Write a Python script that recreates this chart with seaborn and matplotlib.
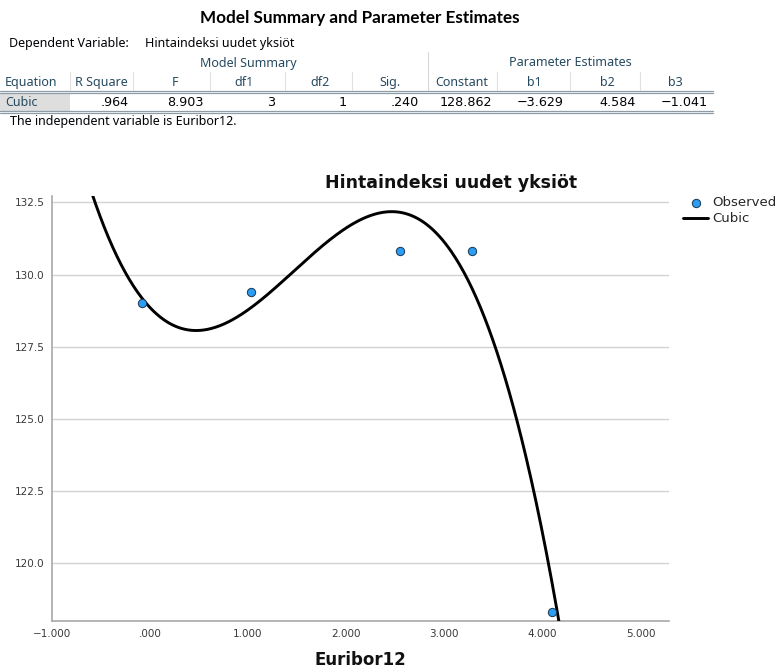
import numpy as np
import pandas as pd
import matplotlib
matplotlib.use("Agg")
import matplotlib.pyplot as plt
from matplotlib.lines import Line2D
from matplotlib.patches import Rectangle
import seaborn as sns

# ---------------- data ----------------
euribor12 = [-0.08, 1.03, 2.55, 3.28, 4.10]
hintaindeksi = [129.0, 129.4, 130.8, 130.8, 118.3]
cubic_coefs = [128.862, -3.629, 4.584, -1.041]  # constant, b1, b2, b3

x_ticks = [-1, 0, 1, 2, 3, 4, 5]
x_tick_labels = ["\u22121.000", ".000", "1.000", "2.000", "3.000", "4.000", "5.000"]
y_ticks = [120.0, 122.5, 125.0, 127.5, 130.0, 132.5]
y_tick_labels = ["120.0", "122.5", "125.0", "127.5", "130.0", "132.5"]

table_title = "Model Summary and Parameter Estimates"
dependent_label = "Dependent Variable:"
dependent_name = "Hintaindeksi uudet yksiöt"
group_headers = ["Model Summary", "Parameter Estimates"]
col_headers = ["Equation", "R Square", "F", "df1", "df2", "Sig.",
               "Constant", "b1", "b2", "b3"]
row_values = ["Cubic", ".964", "8.903", "3", "1", ".240",
              "128.862", "\u22123.629", "4.584", "\u22121.041"]
footer_text = "The independent variable is Euribor12."
chart_title = "Hintaindeksi uudet yksiöt"
x_label = "Euribor12"

# ---------------- style ----------------
sns.set_theme(style="white")
plt.rcParams["font.family"] = ["DejaVu Sans"]
TXT = ["Noto Sans", "DejaVu Sans"]
NUM = ["DejaVu Sans"]

W, H = 775, 672
fig = plt.figure(figsize=(W / 100, H / 100), dpi=100)


def fx(x):
    return x / W


def fy(y):
    return 1 - y / H


hdr_col = "#264A60"
val_col = "#010205"

# ---------------- table ----------------
fig.text(fx(360), fy(18), table_title, ha="center", va="center",
         fontsize=12.3, fontweight="bold", family=["Lato", "DejaVu Sans"], color="#000000")
fig.text(fx(9), fy(44), dependent_label, ha="left", va="center",
         fontsize=9, family=TXT, color=val_col)
fig.text(fx(145), fy(44), dependent_name, ha="left", va="center",
         fontsize=9, family=TXT, color=val_col)

fig.text(fx(248), fy(63), group_headers[0], ha="center", va="center",
         fontsize=9, family=TXT, color=hdr_col)
fig.text(fx(570), fy(63), group_headers[1], ha="center", va="center",
         fontsize=9, family=TXT, color=hdr_col)

hdr_x = [5, 101, 175, 244, 320, 390, 462, 534, 607, 675]
for i, (h, x) in enumerate(zip(col_headers, hdr_x)):
    fig.text(fx(x), fy(82.5), h, ha="left" if i == 0 else "center", va="center",
             fontsize=9, family=TXT, color=hdr_col)

# grey label cell
fig.add_artist(Rectangle((fx(0), fy(111)), fx(70), (111 - 93.5) / H,
                         transform=fig.transFigure, facecolor="#DEDEDE",
                         edgecolor="none", zorder=0))
val_right = [None, 129, 204, 275, 347, 419, 492, 564, 636, 708]
for i, (v, x) in enumerate(zip(row_values, val_right)):
    if i == 0:
        fig.text(fx(5), fy(102.5), v, ha="left", va="center",
                 fontsize=9, family=TXT, color=hdr_col)
    else:
        fig.text(fx(x), fy(102.5), v, ha="right", va="center",
                 fontsize=9.2, family=NUM, color=val_col)

fig.text(fx(10), fy(121.5), footer_text, ha="left", va="center",
         fontsize=9, family=TXT, color=val_col)


def hline(y, x0, x1, color, lw):
    fig.add_artist(Line2D([fx(x0), fx(x1)], [fy(y), fy(y)],
                          transform=fig.transFigure, color=color, lw=lw))


def vline(x, y0, y1, color, lw):
    fig.add_artist(Line2D([fx(x), fx(x)], [fy(y0), fy(y1)],
                          transform=fig.transFigure, color=color, lw=lw))


for y in (90.5, 92.5):
    hline(y, 0, 713, "#8D9CA6", 0.9)
for y in (111, 113):
    hline(y, 0, 713, "#8D9CA6", 0.9)
vline(428, 52, 90, "#D8D8D8", 0.8)
for x in (70, 133, 210, 285, 352, 497, 570, 640):
    vline(x, 72, 90, "#E0E0E0", 0.8)

# ---------------- chart ----------------
left, right, bottom, top = 51.7, 669, 621, 196
ax = fig.add_axes([fx(left), fy(bottom), (right - left) / W, (bottom - top) / H])

xlim = (-1.0, 5.29)
ylim = (118.0, 132.72)

curve_x = np.linspace(xlim[0], xlim[1], 600)
curve_y = (cubic_coefs[0] + cubic_coefs[1] * curve_x
           + cubic_coefs[2] * curve_x ** 2 + cubic_coefs[3] * curve_x ** 3)
obs = pd.DataFrame({"Euribor12": euribor12, "Hintaindeksi": hintaindeksi})
fit = pd.DataFrame({"Euribor12": curve_x, "Hintaindeksi": curve_y})

for yt in y_ticks:
    ax.axhline(yt, color="#D2D2D2", lw=1.0, zorder=0)

sns.lineplot(data=fit, x="Euribor12", y="Hintaindeksi", ax=ax, color="black",
             lw=2.1, label="Cubic", zorder=3, sort=False)
sns.scatterplot(data=obs, x="Euribor12", y="Hintaindeksi", ax=ax, s=36,
                color="#2A9DF4", edgecolor="#1B3550", linewidth=0.7,
                label="Observed", zorder=4)

ax.set_xlim(*xlim)
ax.set_ylim(*ylim)
ax.set_xticks(x_ticks, x_tick_labels)
ax.set_yticks(y_ticks, y_tick_labels)
ax.tick_params(axis="both", length=0, labelsize=7.5, labelcolor="#3A3A3A")
ax.tick_params(axis="y", pad=5)
ax.tick_params(axis="x", pad=6)
ax.grid(False)
for s in ("top", "right"):
    ax.spines[s].set_visible(False)
for s in ("left", "bottom"):
    ax.spines[s].set_color("#A8A8A8")
    ax.spines[s].set_linewidth(1.2)

ax.set_ylabel("")
ax.set_xlabel(x_label, fontsize=12, fontweight="bold", color="#111111")
ax.xaxis.set_label_coords(0.5, -(660 - bottom) / (bottom - top))
ax.xaxis.label.set_va("center")

fig.text(fx(451), fy(183), chart_title, ha="center", va="center",
         fontsize=12.5, fontweight="bold", color="#111111")

handles, labels = ax.get_legend_handles_labels()
order = [labels.index("Observed"), labels.index("Cubic")]
ax.get_legend().remove()
fig.legend([handles[i] for i in order], [labels[i] for i in order],
           loc="upper left", bbox_to_anchor=(fx(683), fy(196)), frameon=False,
           fontsize=9.5, handlelength=1.9, handletextpad=0.3, labelspacing=0.25,
           borderaxespad=0, borderpad=0)

fig.savefig("out.png", dpi=100)
